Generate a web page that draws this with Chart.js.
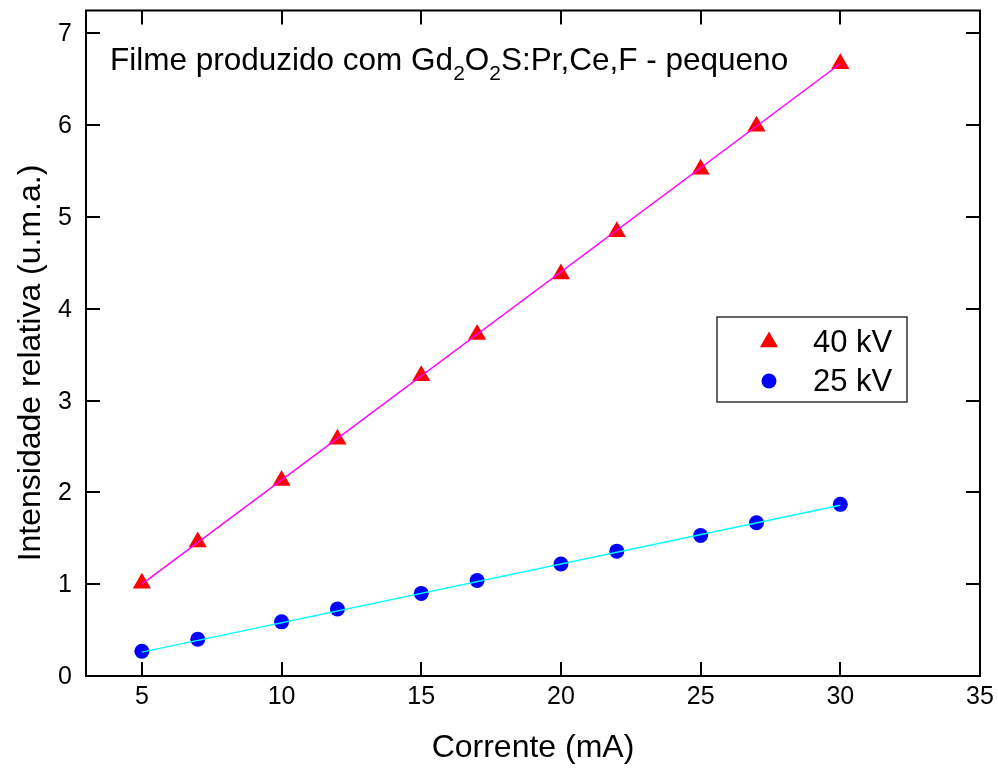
<!DOCTYPE html>
<html>
<head>
<meta charset="utf-8">
<script src="https://cdn.jsdelivr.net/npm/chart.js@4.4.0/dist/chart.umd.min.js"></script>
<style>
  body { margin: 0; background: #fff; }
</style>
</head>
<body>
<canvas id="myChart" width="998" height="769"></canvas>
<script>
// corrente (mA)
var current = [5, 7, 10, 12, 15, 17, 20, 22, 25, 27, 30];
// intensidade relativa
var kv40 = [1.01, 1.46, 2.13, 2.58, 3.27, 3.72, 4.38, 4.84, 5.52, 5.99, 6.67];
var kv25 = [0.27, 0.40, 0.59, 0.73, 0.90, 1.04, 1.22, 1.36, 1.53, 1.67, 1.87];
// ajuste linear (extremos)
var fitX = [5, 30];
var fit40 = [1.00, 6.67];
var fit25 = [0.26, 1.86];

var xTicks = [5, 10, 15, 20, 25, 30, 35];
var yTicks = [0, 1, 2, 3, 4, 5, 6, 7];

var FONT = "'Liberation Sans', Arial, sans-serif";

function pts(xs, ys) {
  return xs.map(function (x, i) { return {x: x, y: ys[i]}; });
}

// moldura, ticks internos nos quatro lados e rótulos dos eixos
var frame = {
  id: "frame",
  afterDraw: function (chart) {
    var ctx = chart.ctx, a = chart.chartArea;
    var sx = chart.scales.x, sy = chart.scales.y;
    ctx.save();
    ctx.strokeStyle = "#000";
    ctx.lineWidth = 2;
    ctx.strokeRect(a.left, a.top, a.right - a.left, a.bottom - a.top);
    ctx.beginPath();
    xTicks.forEach(function (v) {
      var px = Math.round(sx.getPixelForValue(v));
      ctx.moveTo(px, a.bottom); ctx.lineTo(px, a.bottom - 14);
      ctx.moveTo(px, a.top); ctx.lineTo(px, a.top + 14);
    });
    yTicks.forEach(function (v) {
      var py = Math.round(sy.getPixelForValue(v));
      ctx.moveTo(a.left, py); ctx.lineTo(a.left + 14, py);
      ctx.moveTo(a.right, py); ctx.lineTo(a.right - 14, py);
    });
    ctx.stroke();

    ctx.fillStyle = "#000";
    ctx.font = "25px " + FONT;
    ctx.textAlign = "center";
    ctx.textBaseline = "top";
    xTicks.forEach(function (v) {
      ctx.fillText(String(v), sx.getPixelForValue(v), a.bottom + 9);
    });
    ctx.textAlign = "right";
    ctx.textBaseline = "middle";
    yTicks.forEach(function (v) {
      ctx.fillText(String(v), a.left - 14, sy.getPixelForValue(v) + 1);
    });

    // título do eixo y
    ctx.font = "32px " + FONT;
    ctx.textAlign = "center";
    ctx.translate(31, 363);
    ctx.rotate(-Math.PI / 2);
    ctx.fillText("Intensidade relativa (u.m.a.)", 0, 0);
    ctx.restore();
  }
};

// texto com subscritos
var note = {
  id: "note",
  afterDraw: function (chart) {
    var ctx = chart.ctx;
    var parts = [
      ["Filme produzido com Gd", false], ["2", true], ["O", false],
      ["2", true], ["S:Pr,Ce,F - pequeno", false]
    ];
    var x = 110, y = 70;
    ctx.save();
    ctx.fillStyle = "#000";
    ctx.textBaseline = "alphabetic";
    parts.forEach(function (p) {
      ctx.font = (p[1] ? "21px " : "31.5px ") + FONT;
      ctx.fillText(p[0], x, p[1] ? y + 10 : y);
      x += ctx.measureText(p[0]).width;
    });
    ctx.restore();
  }
};

// legenda em caixa
var box = {
  id: "box",
  afterDraw: function (chart) {
    var ctx = chart.ctx;
    ctx.save();
    ctx.strokeStyle = "#333";
    ctx.lineWidth = 1.5;
    ctx.strokeRect(717, 317, 190, 85);
    ctx.font = "31px " + FONT;
    ctx.textBaseline = "middle";
    [0, 1].forEach(function (i) {
      var ds = chart.data.datasets[i + 2];
      var yy = 342 + i * 39;
      ctx.fillStyle = ds.backgroundColor;
      ctx.strokeStyle = ds.backgroundColor;
      Chart.helpers.drawPoint(ctx, {pointStyle: ds.pointStyle, radius: ds.pointRadius, borderWidth: 0, rotation: 0}, 769, yy);
      ctx.fillStyle = "#000";
      ctx.fillText(ds.label, 813, yy + 1);
    });
    ctx.restore();
  }
};

new Chart("myChart", {
  type: "scatter",
  data: {
    datasets: [
      {
        label: "ajuste 40 kV", data: pts(fitX, fit40), showLine: true,
        borderColor: "#ff00ff", borderWidth: 1.5, pointRadius: 0, order: 0
      },
      {
        label: "ajuste 25 kV", data: pts(fitX, fit25), showLine: true,
        borderColor: "#00ffff", borderWidth: 1.5, pointRadius: 0, order: 0
      },
      {
        label: "40 kV", data: pts(current, kv40), pointStyle: "triangle",
        pointRadius: 10.5, backgroundColor: "#ff0000", borderColor: "#ff0000",
        borderWidth: 0, order: 1
      },
      {
        label: "25 kV", data: pts(current, kv25), pointStyle: "circle",
        pointRadius: 7.5, backgroundColor: "#0000ff", borderColor: "#0000ff",
        borderWidth: 0, order: 1
      }
    ]
  },
  options: {
    responsive: false,
    animation: false,
    layout: {padding: {top: 9, right: 18, left: 0, bottom: 0}},
    plugins: {legend: {display: false}, tooltip: {enabled: false}},
    scales: {
      x: {
        type: "linear", min: 3, max: 35,
        afterBuildTicks: function (s) { s.ticks = xTicks.map(function (v) { return {value: v}; }); },
        afterFit: function (s) { s.height = 93; },
        grid: {display: false, drawTicks: false},
        border: {display: false},
        ticks: {display: false},
        title: {display: true, text: "Corrente (mA)", color: "#000",
                font: {family: FONT, size: 32}, padding: {top: 0, bottom: 2}}
      },
      y: {
        min: 0, max: 7.25,
        afterBuildTicks: function (s) { s.ticks = yTicks.map(function (v) { return {value: v}; }); },
        afterFit: function (s) { s.width = 86; },
        grid: {display: false, drawTicks: false},
        border: {display: false},
        ticks: {display: false}
      }
    }
  },
  plugins: [frame, note, box]
});
</script>
</body>
</html>
